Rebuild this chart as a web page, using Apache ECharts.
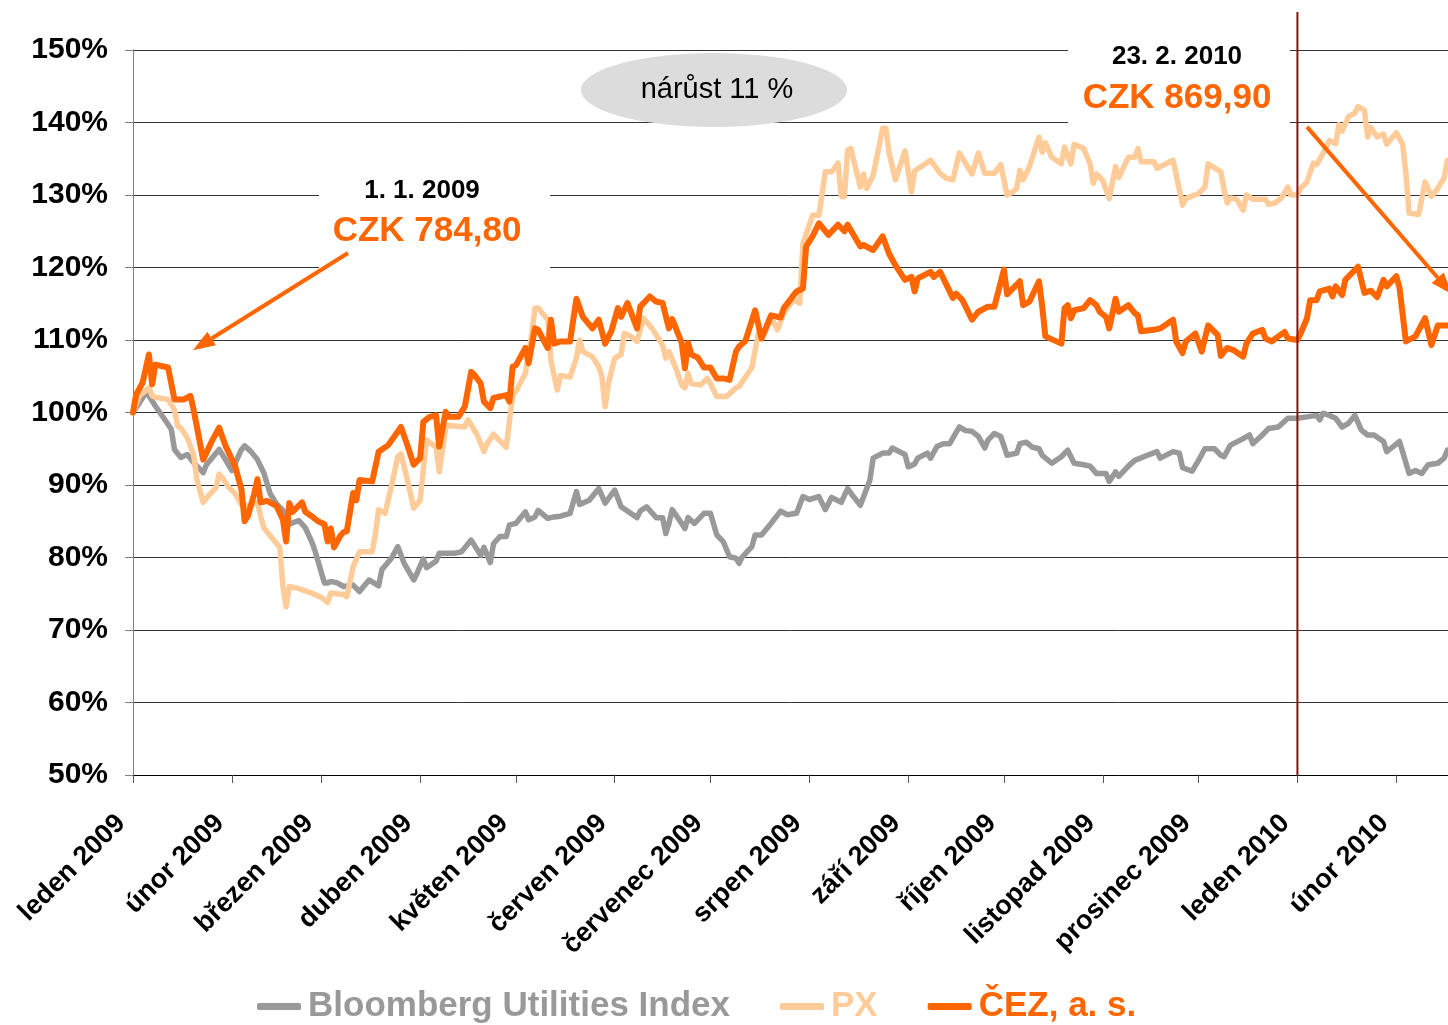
<!DOCTYPE html>
<html>
<head>
<meta charset="utf-8">
<script src="https://cdn.jsdelivr.net/npm/echarts@6/dist/echarts.min.js"></script>
<style>
  html, body { margin: 0; padding: 0; background: #fff; }
  #chart { width: 1448px; height: 1025px; }
</style>
</head>
<body>
<div id="chart"></div>
<script>
// x values are days counted from 1. 1. 2009
var monthDays = [0, 31, 59, 90, 120, 151, 181, 212, 243, 273, 304, 334, 365, 396];
var monthLabels = ["leden 2009", "únor 2009", "březen 2009", "duben 2009", "květen 2009", "červen 2009",
    "červenec 2009", "srpen 2009", "září 2009", "říjen 2009", "listopad 2009", "prosinec 2009",
    "leden 2010", "únor 2010"];
var lastDay = 412.2;

var bloombergDays = [0,4,5,7,10,12,13,15,17,19,22,23,27,29,31,34,35,37,39,41,43,45,47,49,52,54,56,57,60,61,62,64,66,
    69,71,74,77,78,81,83,85,88,89,91,92,95,96,101,103,106,109,110,112,113,115,117,118,120,123,124,126,127,130,132,134,
    137,139,140,143,146,148,151,153,156,158,159,161,164,166,167,168,169,172,173,174,176,179,181,183,185,187,189,190,191,194,195,197,200,203,
    205,208,210,212,215,217,219,222,224,226,228,231,232,235,237,238,242,243,245,246,249,250,252,254,256,259,261,263,265,267,268,270,272,
    274,277,278,280,282,284,285,288,291,293,295,298,300,302,305,306,308,309,312,314,318,321,322,326,328,329,332,334,336,339,341,
    342,344,348,350,351,354,356,359,362,365,368,371,372,373,375,377,379,381,383,385,387,389,392,393,395,397,400,402,404,406,409,411,412];
var bloombergVals = [100,102.7,102.3,100.9,99.0,97.7,94.9,93.8,94.2,93.1,91.7,92.8,94.9,93.5,92.0,94.9,95.4,94.6,93.5,91.7,88.8,87.4,86.5,84.6,85.1,84.1,82.2,81.0,76.5,76.5,76.7,76.5,76.0,
    76.2,75.3,76.9,76.1,78.3,79.9,81.5,79.2,76.9,77.8,79.8,78.6,79.5,80.6,80.6,80.8,82.4,80.3,81.4,79.3,81.9,82.9,82.9,84.5,84.7,86.3,85.2,85.6,86.5,85.4,85.6,85.7,
    86.1,89.1,87.3,87.9,89.5,87.5,89.3,87.0,86.1,85.5,86.4,87.0,85.5,85.5,83.3,84.7,86.6,84.7,84.0,85.5,84.7,86.1,86.1,83.1,82.2,80.1,79.9,79.2,80.1,81.5,83.1,83.1,84.7,86.4,
    85.9,86.1,88.4,88.0,88.4,86.6,88.3,87.6,89.5,88.3,87.2,90.7,93.7,94.4,94.4,95.1,94.2,92.5,92.9,93.7,94.4,93.7,95.3,95.7,95.7,98.0,97.5,97.4,96.7,95.1,96.2,97.1,96.7,
    94.1,94.4,95.7,95.9,95.2,95.0,94.1,93.0,93.9,94.8,93.0,92.8,92.6,91.6,91.6,90.5,91.8,91.2,92.6,93.4,94.1,94.6,93.7,94.6,94.4,92.4,91.9,93.4,95.0,95.0,94.1,
    93.9,95.5,96.4,96.9,95.7,96.9,97.8,98.0,99.2,99.2,99.4,99.6,99.0,99.9,99.6,99.2,98.0,98.5,99.6,97.6,96.9,96.9,96.0,94.6,95.3,96.0,91.6,92.0,91.6,92.8,93.0,93.7,94.8];

var pxDays = [0,2,5,6,7,11,13,14,15,17,19,20,22,24,26,27,28,30,32,34,36,39,40,41,43,46,47,48,49,52,56,59,61,62,64,66,
    67,69,71,75,76,77,79,81,83,84,86,88,90,91,92,95,96,98,99,104,105,108,110,111,113,117,119,120,123,125,126,127,130,131,133,134,
    137,139,140,141,144,146,147,148,149,151,153,154,156,158,159,160,163,166,167,168,170,172,173,174,175,178,180,181,183,186,189,190,192,194,196,198,200,202,
    204,207,209,210,213,215,217,219,221,222,223,224,225,228,229,230,232,235,236,237,239,242,244,245,250,253,255,257,259,263,265,267,270,272,
    274,276,277,278,279,281,284,285,286,288,291,292,294,295,298,300,301,302,304,306,308,309,312,314,315,316,320,321,326,327,329,330,334,336,337,341,
    342,343,344,346,348,349,351,355,356,358,360,362,363,365,366,368,370,371,373,374,375,377,378,379,381,383,384,386,387,388,390,392,393,396,398,399,400,403,405,407,409,411,412];
var pxVals = [100,102.3,103.4,102.3,102.1,101.8,100.4,98.1,97.9,96.5,94.2,90.8,87.6,88.7,89.6,91.5,91.0,89.7,88.8,87.3,87.1,87.6,85.7,84.1,83.0,81.4,76.0,73.2,76.0,75.7,75.1,74.5,73.8,75.1,75.0,74.9,
    74.6,78.7,80.8,80.8,83.3,86.6,86.1,89.8,93.9,94.3,90.7,86.8,87.9,92.1,96.2,95.2,91.8,97.8,98.2,98.0,99.0,96.8,94.6,95.7,97.0,95.2,102.4,102.9,105.4,110.9,114.4,114.4,112.8,107.2,103.1,105.1,
    104.9,107.5,110.0,108.4,107.7,106.3,104.9,100.8,104.0,107.5,108.0,110.9,110.5,109.8,111.4,113.0,111.4,109.3,107.5,108.4,106.3,103.8,103.4,105.4,104.0,103.8,104.7,104.0,102.2,102.2,103.4,103.6,104.9,106.2,110.9,110.9,113.1,111.4,
    113.7,115.5,115.1,123.3,127.2,127.2,133.2,133.2,134.4,129.8,129.8,136.2,136.4,131.1,132.9,130.9,132.7,139.2,139.2,135.8,132.1,136.1,130.4,133.3,134.8,133.0,132.3,132.1,135.8,132.9,135.8,133.0,133.0,134.2,
    130.0,130.5,130.9,133.4,132.1,133.9,138.0,135.9,137.2,135.2,134.3,136.6,134.3,137.0,136.4,134.3,131.6,132.9,132.0,129.5,133.9,132.4,135.2,135.2,136.4,134.6,134.6,133.7,134.8,132.8,128.6,129.5,130.2,131.1,134.3,133.2,
    130.7,128.9,129.6,129.4,127.9,130.0,129.4,129.4,128.7,128.9,129.6,131.1,130.0,130.0,130.9,131.8,134.4,134.2,135.7,136.6,137.5,137.1,139.7,138.8,140.8,141.3,142.2,141.7,138.0,139.3,138.0,138.4,137.0,138.6,137.0,133.0,127.5,127.3,131.8,129.8,130.9,132.4,134.8];

var cezDays = [0,1,3,5,6,7,11,13,16,18,19,22,25,27,29,32,34,35,36,38,39,40,42,45,47,48,49,50,53,54,56,58,60,61,62,63,65,66,
    67,69,70,71,75,77,80,84,86,88,90,91,93,95,96,98,99,102,104,106,107,109,110,112,113,117,118,119,120,123,124,126,127,130,131,132,
    134,137,139,141,144,146,148,150,152,153,155,158,159,162,164,166,168,169,172,173,174,175,177,179,181,183,185,187,189,190,192,195,197,200,203,
    204,208,210,211,213,215,218,221,223,224,228,229,232,235,237,239,242,244,245,246,250,251,253,255,257,258,260,263,265,268,270,
    273,274,278,279,281,284,285,286,291,292,293,294,295,298,300,302,303,305,306,308,309,312,314,315,316,320,322,326,327,329,330,333,335,337,340,341,
    343,345,348,349,351,354,355,357,359,361,362,365,366,368,369,371,372,375,376,377,379,380,384,386,388,390,392,393,396,397,399,402,405,407,409,412];
var cezVals = [100.0,102.5,104.1,108.0,103.9,106.6,106.2,101.8,101.8,102.3,100.4,93.5,96.3,97.9,95.4,92.6,89.4,85.0,85.7,88.8,90.8,87.6,87.8,87.1,85.2,82.2,87.5,86.3,87.6,86.3,85.7,85.0,84.6,82.2,84.0,81.4,83.0,83.5,
    83.6,88.9,87.9,90.7,90.5,94.6,95.5,98.0,95.5,92.8,93.7,98.7,99.4,99.6,95.3,100.1,99.4,99.4,100.8,105.6,105.2,104.0,101.5,100.6,102.0,102.4,101.5,106.3,106.5,108.9,106.8,111.6,111.4,108.9,112.8,109.5,
    109.8,109.8,115.7,113.2,111.6,112.8,109.5,111.3,114.4,113.2,115.1,111.6,114.6,116.0,115.3,115.1,111.6,112.9,109.6,106.1,109.6,108.0,107.6,106.2,106.2,104.7,104.7,104.5,108.4,109.1,109.9,114.1,110.2,113.4,113.1,
    114.4,116.7,117.1,122.9,124.3,126.1,124.5,125.9,125.0,125.9,122.9,123.1,122.4,124.3,121.9,120.3,118.3,118.7,116.7,118.5,119.4,118.7,119.4,117.6,115.8,116.4,115.5,112.8,113.9,114.6,114.6,
    119.7,116.3,118.1,114.8,115.3,118.1,114.6,110.5,109.5,114.4,114.8,113.0,114.1,114.4,115.5,114.8,113.9,113.2,111.6,115.7,113.9,114.8,113.7,113.4,111.2,111.4,111.6,112.8,109.8,108.2,109.8,110.9,108.4,112.0,110.7,107.8,
    108.9,108.6,107.7,109.5,110.9,111.4,110.2,109.8,110.5,111.1,110.2,110.0,110.9,113.0,115.5,115.5,116.7,117.1,116.0,117.4,116.2,118.3,120.1,116.5,116.8,115.9,118.3,117.4,118.8,117.2,109.8,110.5,113.0,109.3,112.0,112.0];

var seriesNames = ["Bloomberg Utilities Index", "PX", "ČEZ, a. s."];
var seriesColors = ["#999999", "#ffcc99", "#ff6600"];
var seriesWidths = [5.5, 5.5, 6];

function pairs(days, vals) {
    var out = [];
    for (var i = 0; i < days.length; i++) {
        out.push([days[i], vals[i]]);
    }
    return out;
}

var FONT = "'Liberation Sans', Arial, sans-serif";
var myChart = echarts.init(document.getElementById("chart"), null, {renderer: "canvas"});

var option = {
    animation: false,
    backgroundColor: "#fff",
    grid: {left: 133, right: 0, top: 50, bottom: 250, containLabel: false, outerBoundsMode: "none"},
    xAxis: {
        type: "value",
        min: 0,
        max: lastDay,
        axisLine: {show: true, lineStyle: {color: "#000", width: 1}},
        axisTick: {show: true, length: 8, customValues: monthDays, lineStyle: {color: "#555"}},
        axisLabel: {
            customValues: monthDays,
            rotate: 45,
            margin: 32,
            padding: [0, 17, 0, 0],
            fontFamily: FONT,
            fontWeight: "bold",
            fontSize: 27,
            color: "#000",
            formatter: function (v) {
                var i = monthDays.indexOf(Math.round(v));
                return i >= 0 ? monthLabels[i] : "";
            }
        },
        splitLine: {show: false}
    },
    yAxis: {
        type: "value",
        min: 50,
        max: 150,
        interval: 10,
        axisLine: {show: true, lineStyle: {color: "#808080", width: 1}},
        axisTick: {show: true, length: 8, lineStyle: {color: "#808080"}},
        axisLabel: {
            margin: 25,
            fontFamily: FONT,
            fontWeight: "bold",
            fontSize: 30,
            color: "#000",
            formatter: "{value}%"
        },
        splitLine: {show: true, lineStyle: {color: "#333", width: 1}}
    },
    legend: {
        left: 252,
        top: 984,
        icon: "roundRect",
        itemWidth: 44,
        itemHeight: 7,
        itemGap: 50,
        textStyle: {fontFamily: FONT, fontWeight: "bold", fontSize: 35, padding: [0, 0, 0, 2]},
        data: seriesNames.map(function (n, i) {
            return {name: n, textStyle: {color: seriesColors[i]}};
        })
    },
    series: [
        {name: seriesNames[0], data: pairs(bloombergDays, bloombergVals)},
        {name: seriesNames[1], data: pairs(pxDays, pxVals)},
        {name: seriesNames[2], data: pairs(cezDays, cezVals)}
    ].map(function (s, i) {
        s.type = "line";
        s.showSymbol = false;
        s.symbol = "none";
        s.color = seriesColors[i];
        s.lineStyle = {color: seriesColors[i], width: seriesWidths[i], join: "round", cap: "round"};
        s.z = 2 + i;
        return s;
    })
};
myChart.setOption(option);

// annotations
function px(d, v) {
    return myChart.convertToPixel({gridIndex: 0}, [d, v]);
}
function arrow(from, to) {
    var a = px(from[0], from[1]);
    var b = px(to[0], to[1]);
    var dx = b[0] - a[0], dy = b[1] - a[1];
    var len = Math.sqrt(dx * dx + dy * dy);
    var ux = dx / len, uy = dy / len;
    var hl = 22, hw = 8;
    var bx = b[0] - ux * hl, by = b[1] - uy * hl;
    return [
        {type: "line", z: 20, shape: {x1: a[0], y1: a[1], x2: bx, y2: by}, style: {stroke: "#ff6600", lineWidth: 4}},
        {type: "polygon", z: 20, shape: {points: [[b[0], b[1]], [bx - uy * hw, by + ux * hw], [bx + uy * hw, by - ux * hw]]}, style: {fill: "#ff6600"}}
    ];
}
var base = px(365, 50);
var graphics = [
    {type: "rect", z: 1, shape: {x: 319, y: 160, width: 231, height: 120}, style: {fill: "#fff"}},
    {type: "rect", z: 1, shape: {x: 1068, y: 25, width: 222, height: 110}, style: {fill: "#fff"}},
    {type: "ellipse", z: 1, shape: {cx: 714, cy: 90, rx: 133, ry: 37}, style: {fill: "#dcdcdc"}},
    {type: "text", z: 21, style: {text: "nárůst 11 %", x: 717, y: 90, align: "center", verticalAlign: "middle", fontFamily: FONT, fontSize: 29, fill: "#000"}},
    {type: "text", z: 21, style: {text: "1. 1. 2009", x: 422, y: 191, align: "center", verticalAlign: "middle", fontFamily: FONT, fontWeight: "bold", fontSize: 26, fill: "#000"}},
    {type: "text", z: 21, style: {text: "CZK 784,80", x: 427, y: 231, align: "center", verticalAlign: "middle", fontFamily: FONT, fontWeight: "bold", fontSize: 35, fill: "#ff6600"}},
    {type: "text", z: 21, style: {text: "23. 2. 2010", x: 1177, y: 57, align: "center", verticalAlign: "middle", fontFamily: FONT, fontWeight: "bold", fontSize: 26, fill: "#000"}},
    {type: "text", z: 21, style: {text: "CZK 869,90", x: 1177, y: 98, align: "center", verticalAlign: "middle", fontFamily: FONT, fontWeight: "bold", fontSize: 35, fill: "#ff6600"}},
    {type: "line", z: 19, shape: {x1: base[0], y1: 12, x2: base[0], y2: base[1]}, style: {stroke: "#8b1010", lineWidth: 2}}
];
graphics = graphics.concat(arrow([67.4, 122.0], [18.8, 108.6]));
graphics = graphics.concat(arrow([368.0, 139.4], [413.5, 116.3]));
myChart.setOption({graphic: graphics});
</script>
</body>
</html>
